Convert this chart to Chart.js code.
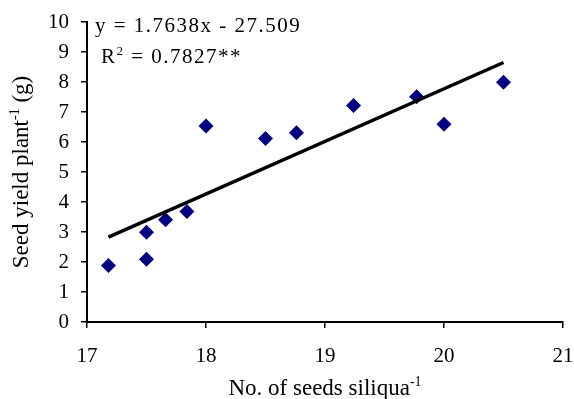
<!DOCTYPE html>
<html>
<head>
<meta charset="utf-8">
<script src="https://cdn.jsdelivr.net/npm/chart.js@4"></script>
<style>
  html, body { margin: 0; padding: 0; background: #fff; }
  #wrap { width: 574px; height: 399px; }
</style>
</head>
<body>
<div id="wrap"><canvas id="grafico" width="574" height="399"></canvas></div>
<script>
// Dados
const sementesSiliqua = [17.18, 17.5, 17.5, 17.66, 17.84, 18.0, 18.5, 18.76, 19.24, 19.77, 20.0, 20.5];
const producaoPlanta  = [1.88, 2.09, 2.99, 3.41, 3.68, 6.53, 6.12, 6.31, 7.22, 7.51, 6.59, 7.99];

// extremos da linha de tendência
const tendenciaX = [17.18, 20.5];
const tendenciaY = [2.83, 8.65];

const ticksX = [17, 18, 19, 20, 21];
const ticksY = [0, 1, 2, 3, 4, 5, 6, 7, 8, 9, 10];

const fonte = '"Liberation Serif", "Times New Roman", serif';
const tamFonte = 21;

// escreve texto com expoente (ex: plant-1)
function textoComExpoente(ctx, partes, x, y, tam) {
    let pos = x;
    partes.forEach(p => {
        if (p.sup) {
            ctx.font = Math.round(tam * 0.6) + 'px ' + fonte;
            ctx.fillText(p.t, pos, y - tam * 0.38);
        } else {
            ctx.font = tam + 'px ' + fonte;
            ctx.fillText(p.t, pos, y);
        }
        pos += ctx.measureText(p.t).width;
    });
}

function larguraPartes(ctx, partes, tam) {
    let w = 0;
    partes.forEach(p => {
        ctx.font = (p.sup ? Math.round(tam * 0.6) : tam) + 'px ' + fonte;
        w += ctx.measureText(p.t).width;
    });
    return w;
}

const textosPlugin = {
    id: 'textos',
    afterDraw(chart) {
        const ctx = chart.ctx;
        const area = chart.chartArea;
        ctx.save();
        ctx.fillStyle = '#000';
        ctx.textBaseline = 'alphabetic';
        ctx.textAlign = 'left';

        // equação (com espaçamento entre letras)
        ctx.letterSpacing = '1.5px';
        textoComExpoente(ctx, [{t: 'y = 1.7638x - 27.509'}], 95, 32, tamFonte);
        textoComExpoente(ctx, [{t: 'R'}, {t: '2', sup: true}, {t: ' = 0.7827**'}], 101, 63, tamFonte);
        ctx.letterSpacing = '0px';

        // título eixo x
        const tx = [{t: 'No. of seeds siliqua'}, {t: '-1', sup: true}];
        const wx = larguraPartes(ctx, tx, 23);
        textoComExpoente(ctx, tx, (area.left + area.right) / 2 - wx / 2, 395, 23);

        // título eixo y
        const ty = [{t: 'Seed yield plant'}, {t: '-1', sup: true}, {t: ' (g)'}];
        const wy = larguraPartes(ctx, ty, 23);
        ctx.translate(28, (area.top + area.bottom) / 2);
        ctx.rotate(-Math.PI / 2);
        textoComExpoente(ctx, ty, -wy / 2, 0, 23);
        ctx.restore();
    }
};

function criarGrafico() {
    const ctx = document.getElementById('grafico');

    new Chart(ctx, {
        type: 'scatter',
        data: {
            datasets: [{
                label: 'Dados',
                data: sementesSiliqua.map((x, i) => ({x: x, y: producaoPlanta[i]})),
                pointStyle: 'rectRot',
                pointRadius: 7.5,
                pointHoverRadius: 7.5,
                backgroundColor: '#000080',
                borderColor: '#000080',
                borderWidth: 0,
                order: 1
            }, {
                label: 'Tendência',
                type: 'line',
                data: tendenciaX.map((x, i) => ({x: x, y: tendenciaY[i]})),
                borderColor: '#000',
                borderWidth: 3.5,
                pointRadius: 0,
                fill: false,
                order: 0
            }]
        },
        options: {
            responsive: false,
            animation: false,
            layout: {
                padding: { top: 22, right: 11, left: 0, bottom: 0 }
            },
            plugins: {
                legend: { display: false },
                tooltip: { enabled: false }
            },
            scales: {
                x: {
                    type: 'linear',
                    min: 17,
                    max: 21,
                    afterBuildTicks: s => { s.ticks = ticksX.map(v => ({value: v})); },
                    afterFit: s => {
                        s.height = 77;
                        s.paddingLeft = 0;
                        s.paddingRight = 0;
                    },
                    ticks: {
                        color: '#000',
                        font: { family: fonte, size: tamFonte },
                        padding: 16
                    },
                    grid: {
                        display: true,
                        drawOnChartArea: false,
                        drawTicks: true,
                        tickLength: 6,
                        color: '#000',
                        lineWidth: 1.5
                    },
                    border: { display: true, color: '#000', width: 2 }
                },
                y: {
                    type: 'linear',
                    min: 0,
                    max: 10,
                    afterBuildTicks: s => { s.ticks = ticksY.map(v => ({value: v})); },
                    afterFit: s => {
                        s.width = 87;
                        s.paddingTop = 0;
                        s.paddingBottom = 0;
                    },
                    ticks: {
                        color: '#000',
                        font: { family: fonte, size: tamFonte },
                        padding: 12
                    },
                    grid: {
                        display: true,
                        drawOnChartArea: false,
                        drawTicks: true,
                        tickLength: 6,
                        color: '#000',
                        lineWidth: 1.5
                    },
                    border: { display: true, color: '#000', width: 2 }
                }
            }
        },
        plugins: [textosPlugin]
    });
}

criarGrafico();
</script>
</body>
</html>
